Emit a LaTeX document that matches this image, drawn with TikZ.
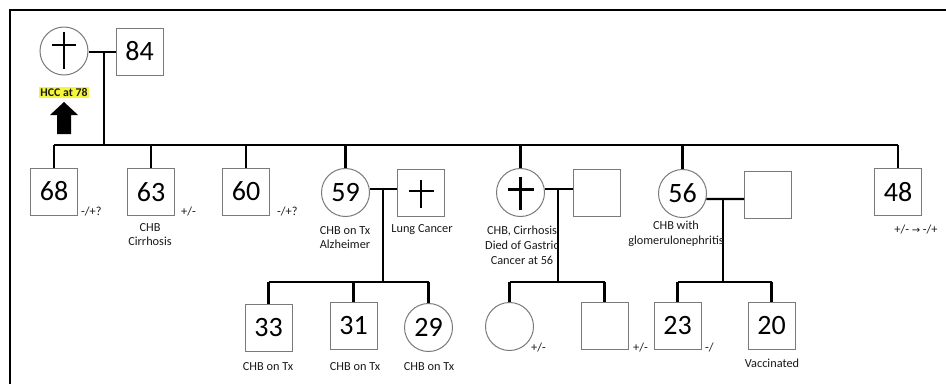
\documentclass[tikz,border=0pt]{standalone}
\usepackage{fontspec}
\setmainfont{Carlito}
\newfontfamily\dvs{DejaVu Sans}
\definecolor{boxgray}{HTML}{7A7A7A}
\definecolor{txt}{HTML}{1A1A1A}
\definecolor{hl}{HTML}{F5F53A}
\begin{document}
\begin{tikzpicture}[x=1pt,y=-1pt,
 sq/.style={draw=boxgray,line width=1pt,minimum size=47pt,inner sep=0pt,font=\fontsize{28}{28}\selectfont},
 ci/.style={circle,draw=boxgray,line width=1pt,minimum size=48pt,inner sep=0pt,font=\fontsize{28}{28}\selectfont},
 ln/.style={line width=2.2pt,black},
 lbl/.style={font=\fontsize{12.3}{14.8}\selectfont,align=center,inner sep=0pt,text=txt},
 crossline/.style={line width=2.4pt,black}]
\useasboundingbox (0,0) rectangle (946,384);
\fill[white] (0,0) rectangle (946,384);
% frame
\draw[line width=2pt] (946,10) -- (10,10) -- (10,384);

% generation I
\node[ci] (gm) at (64,51) {};
\node[sq] (gf) at (139.5,51.5) {84};
\draw[crossline] (gm) ++(0,-19) -- ++(0,37);
\draw[crossline] (gm) ++(-12,-6) -- ++(24,0);
\coordinate (m1) at (104,52);
\coordinate (sib) at (104,145);
\draw[ln] (gm.east |- m1) -- (gf.west |- m1);
\draw[ln] (m1) -- (sib);
\node[lbl,font=\fontsize{11.8}{12}\selectfont\bfseries,fill=hl,inner xsep=1pt,inner ysep=1.5pt] (hcc) at (64,92.5) {HCC at 78};
\fill (64,102) -- (78,115) -- (71,115) -- (71,134) -- (57,134) -- (57,115) -- (50,115) -- cycle;

% generation II
\node[sq] (c68) at (54,191.5) {68};
\node[sq] (c63) at (151,192) {63};
\node[sq] (c60) at (246,191.5) {60};
\node[ci] (c59) at (345.5,192.5) {59};
\node[sq] (h59) at (421,193) {};
\node[ci] (c57) at (520.5,192.5) {};
\node[sq] (h57) at (596.5,193) {};
\node[ci] (c56) at (682.5,193.5) {56};
\node[sq] (h56) at (768,195) {};
\node[sq] (c48) at (898,192) {48};
\draw[crossline] (h59) ++(0,-13) -- ++(0,28);
\draw[crossline] (h59) ++(-12.5,-2) -- ++(25,0);
\draw[crossline] (c57) ++(0,-16) -- ++(0,33);
\draw[crossline] (c57) ++(-13,-3) -- ++(26,0);

\draw[ln] (c68.north |- sib) -- (c48.north |- sib);
\foreach \n in {c68,c63,c60,c59,c57,c56,c48}
  \draw[ln] (\n.north |- sib) -- (\n.north);

% couples
\coordinate (m2) at (383,189);
\coordinate (m3) at (558,189);
\coordinate (m4) at (723,199);
\draw[ln] (c59.east |- m2) -- (h59.west |- m2);
\draw[ln] (c57.east |- m3) -- (h57.west |- m3);
\draw[ln] (c56.-13.5) -- (h56.west |- m4);

% generation III
\node[sq] (g33) at (268.5,327.5) {33};
\node[sq] (g31) at (353.5,326) {31};
\node[ci] (g29) at (428.5,327.5) {29};
\node[ci] (gc) at (509.5,326.5) {};
\node[sq] (gs) at (604.5,326) {};
\node[sq] (g23) at (677.5,326) {23};
\node[sq] (g20) at (771.5,326) {20};

\coordinate (s2) at (383,282);
\coordinate (s3) at (558,282);
\coordinate (s4) at (723,282);
\draw[ln] (m2) -- (s2);
\draw[ln] (m3) -- (s3);
\draw[ln] (m4) -- (s4);
\draw[ln] (g33.north |- s2) -- (g29.north |- s2);
\draw[ln] (gc.north |- s3) -- (gs.north |- s3);
\draw[ln] (g23.north |- s4) -- (g20.north |- s4);
\foreach \n/\s in {g33/s2,g31/s2,g29/s2,gc/s3,gs/s3,g23/s4,g20/s4}
  \draw[ln] (\n.north |- \s) -- (\n.north);

% labels
\node[lbl,anchor=west] (l68) at (81,211) {-/+?};
\node[lbl,anchor=west] (l63) at (181,211) {+/-};
\node[lbl,anchor=west] (l60) at (277,211) {-/+?};
\node[lbl] (t63) at (150,234.5) {CHB\\Cirrhosis};
\node[lbl] (t59) at (345,237.5) {CHB on Tx\\Alzheimer};
\node[lbl] (th59) at (422,230) {Lung Cancer};
\node[lbl] (t57) at (522,245) {CHB, Cirrhosis\\Died of Gastric\\Cancer at 56};
\node[lbl] (t56) at (676,234) {CHB with\\glomerulonephritis};
\node[lbl] (t48) at (916,229) {+/- {\dvs\fontsize{10}{10}\selectfont →} -/+};
\node[lbl] (t33) at (268,367) {CHB on Tx};
\node[lbl] (t31) at (355,367) {CHB on Tx};
\node[lbl] (t29) at (429,367) {CHB on Tx};
\node[lbl,anchor=west] (lgc) at (531,347) {+/-};
\node[lbl,anchor=west] (lgs) at (633,347) {+/-};
\node[lbl,anchor=west] (l23) at (705,347) {-/};
\node[lbl] (t20) at (772,363) {Vaccinated};
\end{tikzpicture}
\end{document}
